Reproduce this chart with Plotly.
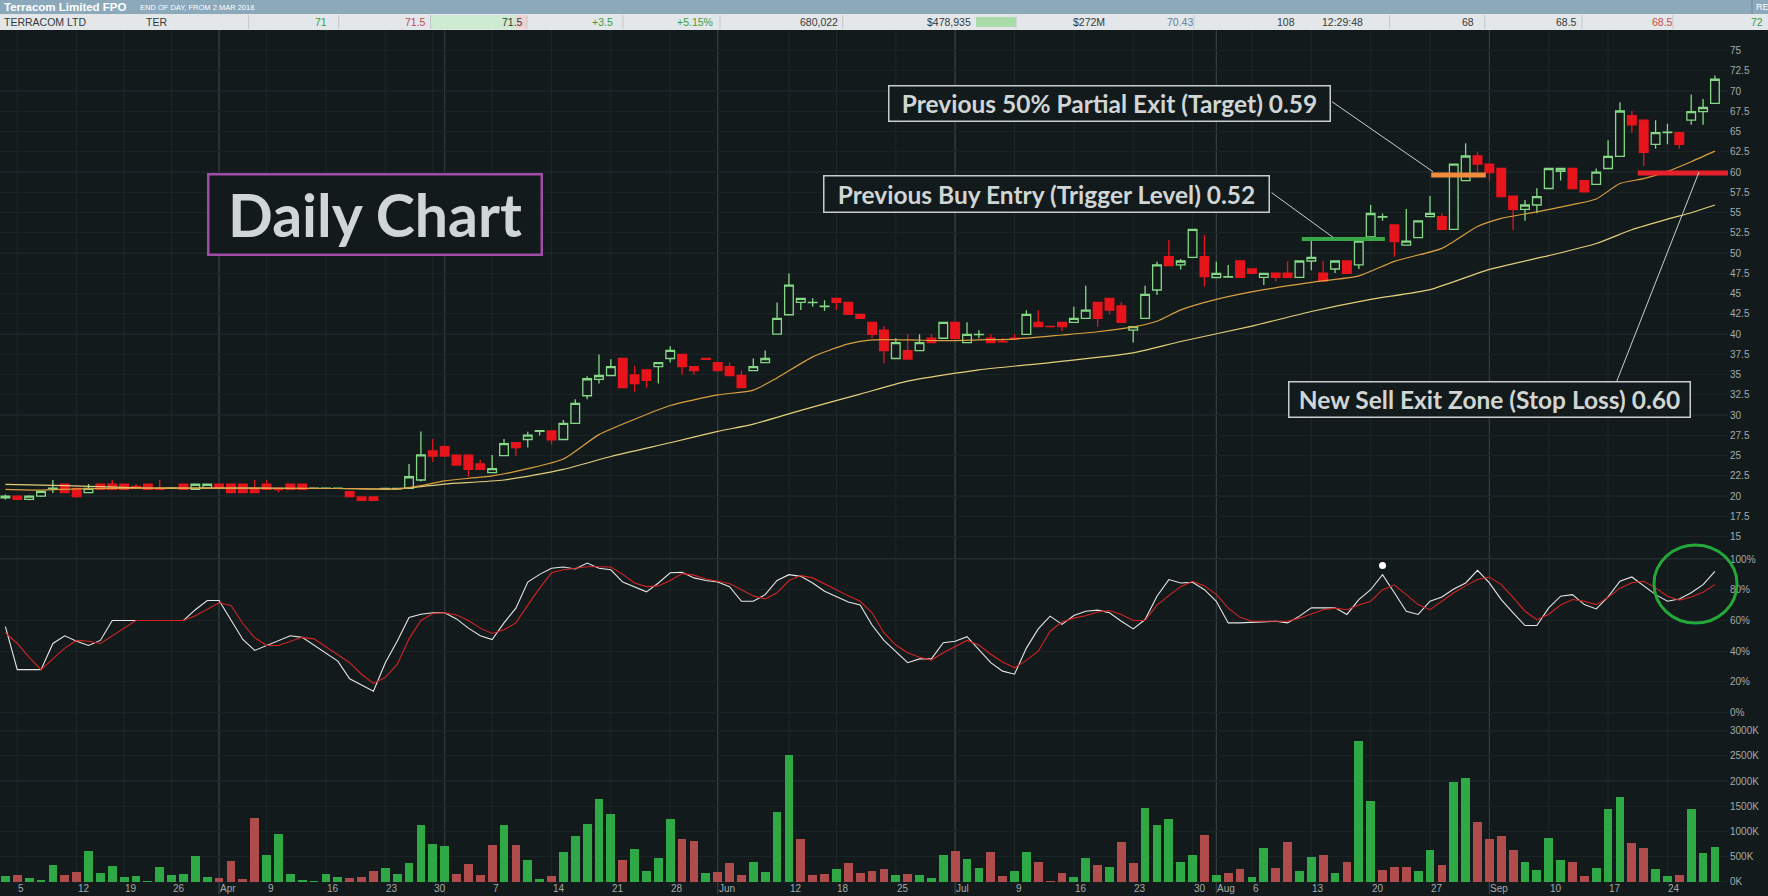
import pandas as pd
import plotly.graph_objects as go
from plotly.subplots import make_subplots

# ---------------- categories (trading days) ----------------
holidays = ["2018-03-30", "2018-04-02", "2018-04-25", "2018-06-11"]
no_trade_days = ["2018-03-14", "2018-03-21"]
dates = [d.strftime("%Y-%m-%d") for d in pd.bdate_range("2018-03-02", "2018-09-28")
         if d.strftime("%Y-%m-%d") not in holidays + no_trade_days]

# ---------------- price (cents) ----------------
opens = [19.8, 20.0, 19.6, 20.0, 20.95, 21.47, 20.97, 20.44, 21.47, 21.47,
         21.47, 21.2, 21.47, 20.95, 20.96, 21.47, 20.85, 21.0, 21.47, 21.47,
         21.47, 20.97, 21.47, 20.97, 21.47, 21.47, 20.96, 20.96, 20.96, 20.56,
         19.9, 19.9, 20.9, 20.9, 20.97, 22.0, 25.58, 26.1, 25.08, 25.08,
         23.97, 22.9, 25.0, 26.6, 27.0, 28.0, 28.05, 27.0, 29.0, 32.4,
         34.43, 34.9, 37.0, 34.96, 35.6, 36.0, 37.0, 37.5, 36.0, 37.0,
         36.5, 36.0, 34.9, 35.5, 36.5, 40.0, 42.4, 43.94, 43.9, 43.4,
         44.43, 43.94, 42.45, 41.47, 40.5, 37.0, 37.97, 37.97, 39.5, 39.5,
         41.47, 38.96, 39.95, 39.5, 39.1, 39.5, 39.98, 41.47, 40.95, 41.47,
         41.47, 41.96, 43.94, 44.43, 43.5, 40.5, 41.96, 45.46, 49.57, 48.55,
         49.49, 49.57, 47.0, 47.05, 49.04, 48.05, 47.02, 47.55, 47.55, 47.02,
         49.04, 47.55, 48.05, 49.04, 48.55, 52.0, 54.45, 53.48, 51.01, 51.92,
         54.51, 54.51, 52.95, 58.96, 62.0, 61.01, 60.48, 57.06, 55.42, 55.95,
         57.99, 60.12, 60.46, 58.97, 58.5, 60.46, 61.95, 67.0, 66.42, 63.44,
         64.9, 64.88, 66.42, 67.48, 68.5]
highs = [20.2, 20.0, 20.1, 20.7, 22.0, 21.5, 21.0, 21.5, 21.5, 22.0,
         21.5, 21.5, 21.5, 22.0, 21.0, 21.5, 21.5, 21.5, 21.5, 21.5,
         21.5, 22.0, 22.0, 21.0, 21.5, 21.5, 21.0, 21.0, 21.0, 20.6,
         19.9, 20.0, 21.0, 21.0, 23.98, 28.0, 27.06, 26.3, 25.1, 25.1,
         24.5, 25.08, 27.06, 26.6, 27.97, 28.1, 28.05, 29.4, 31.96, 34.8,
         37.5, 36.9, 37.0, 36.1, 35.6, 36.5, 38.5, 37.5, 36.0, 37.0,
         36.5, 36.5, 35.5, 37.0, 38.0, 43.9, 47.5, 44.43, 44.43, 44.2,
         44.43, 43.94, 42.45, 41.47, 41.0, 39.5, 40.0, 40.0, 40.0, 41.47,
         41.47, 41.47, 40.5, 40.0, 39.5, 40.0, 42.97, 42.97, 40.95, 41.47,
         43.4, 45.99, 43.94, 44.43, 43.94, 40.93, 45.99, 48.96, 51.63, 49.3,
         52.95, 52.25, 48.96, 48.55, 49.04, 48.05, 47.52, 47.55, 49.0, 49.04,
         51.5, 49.04, 49.04, 49.04, 51.5, 55.95, 54.9, 53.48, 55.46, 53.98,
         57.06, 54.92, 61.01, 63.57, 62.54, 61.01, 60.48, 57.06, 56.57, 58.01,
         60.46, 60.46, 60.46, 58.97, 60.46, 63.95, 68.63, 67.56, 66.42, 66.42,
         65.99, 64.88, 69.6, 69.05, 71.95]
lows = [19.6, 19.5, 19.5, 19.9, 20.4, 20.4, 19.85, 20.4, 20.85, 20.85,
        20.85, 21.0, 20.85, 20.8, 20.95, 20.85, 20.85, 21.0, 21.0, 20.44,
        20.44, 20.44, 20.85, 20.44, 20.85, 20.85, 20.95, 20.95, 20.95, 19.94,
        19.4, 19.4, 20.9, 20.9, 20.9, 21.8, 24.26, 24.96, 23.85, 22.4,
        23.3, 22.9, 25.0, 24.96, 26.0, 27.5, 26.4, 27.0, 29.0, 31.96,
        33.9, 34.9, 33.4, 32.9, 33.4, 33.9, 36.5, 35.0, 35.0, 36.9,
        35.5, 34.9, 33.4, 35.5, 36.5, 40.0, 42.4, 43.0, 43.4, 42.9,
        43.0, 42.45, 41.96, 39.5, 36.4, 37.0, 36.94, 37.97, 38.96, 39.5,
        39.5, 38.96, 39.5, 38.96, 39.0, 39.4, 39.98, 40.93, 40.9, 40.4,
        41.47, 41.96, 40.93, 42.45, 41.47, 38.96, 41.96, 44.84, 48.46, 48.0,
        49.49, 45.9, 47.0, 47.05, 47.02, 47.52, 46.08, 46.5, 47.02, 47.02,
        47.9, 46.57, 47.55, 47.5, 48.05, 52.0, 54.0, 49.57, 51.01, 51.92,
        54.51, 52.95, 52.95, 58.96, 59.99, 58.96, 56.98, 52.87, 54.0, 54.92,
        57.99, 58.97, 57.99, 57.57, 58.5, 60.46, 61.95, 64.88, 60.76, 62.9,
        63.44, 62.9, 65.86, 65.86, 68.5]
closes = [20.0, 19.6, 20.0, 20.6, 21.0, 20.44, 19.94, 20.97, 20.85, 20.85,
          20.85, 21.0, 20.85, 20.85, 20.98, 20.85, 21.47, 21.47, 21.0, 20.44,
          20.44, 20.44, 20.85, 20.8, 20.85, 20.85, 20.98, 20.98, 20.98, 19.94,
          19.5, 19.5, 20.95, 20.95, 22.4, 25.1, 24.96, 24.96, 23.85, 23.3,
          23.3, 23.4, 26.5, 26.0, 27.55, 28.1, 26.94, 29.0, 31.46, 34.5,
          34.9, 36.0, 33.4, 33.9, 34.3, 36.5, 38.0, 36.0, 35.5, 36.9,
          35.5, 34.9, 33.4, 36.0, 37.0, 41.96, 46.07, 44.43, 43.94, 43.45,
          43.94, 42.45, 41.96, 39.98, 37.97, 38.96, 36.94, 38.96, 38.96, 41.47,
          39.5, 39.98, 39.98, 38.96, 39.05, 39.4, 42.45, 40.93, 40.93, 40.93,
          41.96, 42.97, 41.96, 42.97, 41.47, 40.93, 44.92, 48.55, 48.46, 49.04,
          52.95, 47.1, 47.5, 47.1, 47.02, 47.52, 47.52, 47.02, 47.02, 49.04,
          49.49, 46.57, 49.04, 47.5, 51.5, 54.9, 54.5, 51.42, 51.5, 53.98,
          54.92, 52.95, 61.01, 62.0, 61.01, 59.94, 56.98, 55.42, 55.95, 56.98,
          60.46, 60.46, 57.99, 57.57, 60.0, 61.95, 67.56, 65.86, 62.46, 64.88,
          64.95, 63.44, 67.48, 67.99, 71.48]

# moving averages read at selected trading-day indices
ma_short_idx = [0, 3, 6, 12, 20, 28, 33, 35, 37, 41, 44, 47, 50, 53, 56, 60, 63, 65, 68, 71, 73,
                76, 79, 82, 85, 89, 92, 95, 97, 99, 102, 106, 110, 114, 117, 121, 124, 126, 129,
                132, 134, 136, 138, 140, 142, 144]
ma_short = [20.85, 20.75, 20.9, 21.0, 21.0, 20.95, 20.9, 21.3, 21.9, 22.5, 23.4, 24.6, 27.6, 29.5,
            31.2, 32.5, 33.1, 34.6, 37.2, 38.8, 39.3, 39.3, 39.2, 39.3, 39.4, 39.9, 40.3, 40.9,
            41.6, 43.0, 44.3, 45.5, 46.4, 47.2, 49.0, 50.6, 53.3, 54.3, 55.1, 56.0, 56.7, 58.6,
            59.2, 60.1, 61.3, 62.6]
ma_long_idx = [0, 5, 12, 20, 28, 33, 37, 42, 47, 51, 56, 60, 63, 67, 72, 76, 82, 88, 95, 99, 105,
               110, 115, 120, 125, 130, 134, 137, 140, 142, 144]
ma_long = [21.45, 21.3, 21.0, 21.0, 20.95, 20.9, 21.5, 22.0, 23.3, 24.9, 26.6, 28.0, 28.9, 30.6,
           32.6, 34.2, 35.6, 36.5, 37.7, 39.1, 41.0, 42.8, 44.3, 45.5, 48.0, 49.7, 51.2, 52.9,
           54.2, 55.0, 55.95]

# ---------------- stochastic (%) ----------------
stoch_k = [56, 28, 28, 28, 45, 50, 46.5, 43.7, 47, 60,
           60, 60, 60, 60, 60, 60, 67, 73, 73, 60,
           47.6, 40.5, 43.7, 47, 50, 49, 44, 38.5, 33.5, 22,
           18, 14, 32.5, 46.5, 62, 64, 65, 65, 61, 55,
           50, 47.6, 58.4, 68, 85, 90, 94, 94.8, 93.5, 97.4,
           94, 93, 85, 82, 78.6, 84.4, 91, 91.3, 87.7, 86,
           85, 82, 72.5, 72.5, 76.8, 86, 89.8, 88.7, 84.4, 79,
           75.5, 72, 70, 57, 47, 40, 32.5, 35, 35, 45.5,
           46.5, 49.4, 41, 32.5, 27, 25, 42, 54.5, 62.8, 57.4,
           63.2, 66, 66.7, 65, 59.5, 54.5, 60.6, 75.8, 86.6, 84.4,
           84.8, 80, 72.5, 58.4, 58.4, 58.9, 59.2, 59.5, 58.4, 62.8,
           68.2, 68.2, 68.2, 63.9, 73.6, 80, 89.8, 78, 66, 63.9,
           72.5, 75.3, 80.5, 84.4, 92.6, 84.4, 73.6, 65, 56.7, 56.7,
           68.2, 75.8, 76.8, 70.3, 67.5, 75.3, 85.5, 88.3, 82.3, 76.8,
           72.5, 74, 78, 83.3, 92]
stoch_d = [52, 45, 36, 28, 35, 42, 47, 46.5, 45, 50,
           55, 60, 60, 60, 60, 60, 63, 67, 71.5, 69.7,
           58, 48.7, 43.7, 43.7, 46.5, 49, 48, 43, 38, 32.5,
           25, 19, 23, 31.4, 48, 60, 64.5, 65, 63.5, 60,
           55, 51.5, 54, 58.4, 70, 81, 91, 93, 94, 95,
           95, 94.8, 90, 84.4, 82, 82.5, 86, 90.5, 89.5, 87,
           85.5, 84, 80, 76, 74, 78, 86, 89.2, 87.7, 84,
           80, 76, 72.5, 65, 52, 44, 39, 36, 34.2, 39,
           43, 47, 44, 38, 33, 29.2, 34, 40, 53, 59,
           61.5, 63, 65.5, 66.5, 63.9, 60, 60, 70, 76.2, 82,
           85.5, 82.5, 77, 68, 62, 59.5, 59.5, 59.5, 59.5, 61.5,
           64.5, 67, 68, 67, 70, 72.5, 80, 83, 76.8, 70.3,
           67, 72.5, 78, 82.5, 86.6, 88.3, 83.3, 75, 66, 60.5,
           64, 70, 73.6, 72.5, 70.3, 75, 81, 84.5, 85.5, 81.2,
           75.8, 73.2, 75.3, 78.4, 83.3]
stoch_marker_idx = [116]
stoch_marker_val = [95.7]

# ---------------- volume (thousands of shares) ----------------
volume_k = [113, 133, 80, 33, 332, 133, 200, 610, 173, 312,
            93, 113, 13, 292, 133, 153, 511, 93, 80, 418,
            53, 1261, 531, 949, 153, 33, 13, 153, 93, 80,
            93, 212, 265, 153, 372, 1128, 750, 710, 153, 352,
            133, 730, 1128, 730, 431, 53, 113, 591, 909, 1148,
            1646, 1347, 431, 650, 212, 471, 1248, 850, 810, 173,
            192, 372, 133, 392, 192, 1387, 2522, 850, 133, 153,
            252, 372, 176, 216, 252, 133, 153, 133, 73, 531,
            610, 451, 272, 591, 113, 212, 591, 392, 13, 173,
            93, 471, 332, 292, 790, 372, 1460, 1128, 1248, 392,
            531, 929, 133, 173, 252, 93, 670, 272, 790, 212,
            491, 531, 173, 392, 2788, 1606, 232, 292, 292, 212,
            630, 332, 1985, 2064, 1188, 850, 909, 630, 392, 232,
            869, 431, 392, 113, 272, 1447, 1686, 770, 670, 252,
            113, 133, 1447, 571, 690]
volume_dir = list("grgggrrggg" "ggggggggrr" "rrgggggggr" "rrggggggrr"
                  "rrgrggrggg" "ggrggggrrg" "rrrggggrrr" "grrrrgrggg"
                  "rggrrggrrr" "ggrgrrgggg" "grgrrggrrg" "grgrggrrrg"
                  "grggrrrrgg" "ggrrgggrrg" "grggg")

# ---------------- ticks / levels / text ----------------
tick_dates = ["2018-03-05", "2018-03-12", "2018-03-19", "2018-03-26", "2018-04-03", "2018-04-09",
              "2018-04-16", "2018-04-23", "2018-04-30", "2018-05-07", "2018-05-14", "2018-05-21",
              "2018-05-28", "2018-06-01", "2018-06-12", "2018-06-18", "2018-06-25", "2018-07-02",
              "2018-07-09", "2018-07-16", "2018-07-23", "2018-07-30", "2018-08-01", "2018-08-06",
              "2018-08-13", "2018-08-20", "2018-08-27", "2018-09-03", "2018-09-10", "2018-09-17",
              "2018-09-24"]
tick_text = ["5", "12", "19", "26", "Apr", "9", "16", "23", "30", "7", "14", "21", "28", "Jun",
             "12", "18", "25", "Jul", "9", "16", "23", "30", "Aug", "6", "13", "20", "27", "Sep",
             "10", "17", "24"]
month_dates = ["2018-04-03", "2018-05-01", "2018-06-01", "2018-07-02", "2018-08-01", "2018-09-03"]
price_ticks = [15 + 2.5 * k for k in range(25)]
stoch_ticks = [0, 20, 40, 60, 80, 100]
volume_ticks = [0, 500, 1000, 1500, 2000, 2500, 3000]

level_names = ["trigger", "target", "stop"]
level_values = [51.76, 59.66, 59.9]
level_start = [109.2, 120.1, 137.5]
level_end = [116.2, 124.7, 145.3]
level_colors = ["#36a845", "#f08c3c", "#e8202a"]
level_widths = [4, 5, 5]

# ---------------- style ----------------
BG = "#121a1c"
GRID_FAINT = "#1a2426"
GRID_MAJOR = "#2a3638"
VL_WEEK = "#1d282b"
VL_MONTH = "#333f41"
AXIS_FONT = dict(family="Liberation Sans Narrow, Arial Narrow, Liberation Sans, sans-serif",
                 size=10, color="#a3abab")
W, H = 1768, 896
ML, MR, MT, MB = 0, 40, 30, 12
PW, PH = W - ML - MR, H - MT - MB


def px(xp):
    return (xp - ML) / PW


def py(yp):
    return (H - MB - yp) / PH


fig = make_subplots(rows=3, cols=1, shared_xaxes=True, vertical_spacing=0)

fig.add_trace(go.Candlestick(
    x=dates, open=opens, high=highs, low=lows, close=closes, whiskerwidth=0,
    increasing=dict(line=dict(color="#86d886", width=1.3), fillcolor=BG),
    decreasing=dict(line=dict(color="#e8141c", width=1.3), fillcolor="#e8141c"),
    hoverinfo="skip"), row=1, col=1)
fig.add_trace(go.Scatter(x=[dates[i] for i in ma_long_idx], y=ma_long, mode="lines",
                         line=dict(color="#e2cf7c", width=1.2, shape="spline", smoothing=0.6)),
              row=1, col=1)
fig.add_trace(go.Scatter(x=[dates[i] for i in ma_short_idx], y=ma_short, mode="lines",
                         line=dict(color="#d9a040", width=1.2, shape="spline", smoothing=0.6)),
              row=1, col=1)

fig.add_trace(go.Scatter(x=dates, y=stoch_k, mode="lines", line=dict(color="#e6e6e6", width=1.1)),
              row=2, col=1)
fig.add_trace(go.Scatter(x=dates, y=stoch_d, mode="lines", line=dict(color="#d42424", width=1.1)),
              row=2, col=1)
fig.add_trace(go.Scatter(x=[dates[i] for i in stoch_marker_idx], y=stoch_marker_val, mode="markers",
                         marker=dict(color="white", size=7, symbol="circle")), row=2, col=1)

vol_colors = ["#2fa846" if d == "g" else "#b04c4c" for d in volume_dir]
fig.add_trace(go.Bar(x=dates, y=volume_k, marker=dict(color=vol_colors, line=dict(width=0)),
                     width=0.74), row=3, col=1)

xr = [-0.455, 145.1]
for ax in ["xaxis", "xaxis2", "xaxis3"]:
    fig.layout[ax].update(type="category", categoryorder="array", categoryarray=dates,
                          range=xr, showgrid=False, showticklabels=False, zeroline=False,
                          showline=False, rangeslider=dict(visible=False), fixedrange=True)

fig.update_layout(
    yaxis=dict(domain=[py(557), 1], range=[12.49, 77.56], side="right", tickvals=price_ticks,
               ticktext=[f"{v:g}" for v in price_ticks], gridcolor=GRID_FAINT, gridwidth=1,
               zeroline=False, showline=False, ticks="", tickfont=AXIS_FONT, ticklabelstandoff=1),
    yaxis2=dict(domain=[py(722), py(557)], range=[-6.1, 101.3], side="right", tickvals=stoch_ticks,
                ticktext=[f"{v}%" for v in stoch_ticks], gridcolor=GRID_FAINT, zeroline=False,
                showline=False, ticks="", tickfont=AXIS_FONT, ticklabelstandoff=1),
    yaxis3=dict(domain=[0, py(722)], range=[-43.7, 3172.7], side="right", tickvals=volume_ticks,
                ticktext=[f"{v}K" for v in volume_ticks], gridcolor=GRID_FAINT, zeroline=False,
                showline=False, ticks="", tickfont=AXIS_FONT, ticklabelstandoff=1),
)

shapes = []
# vertical grid lines
for d in tick_dates + month_dates:
    i = dates.index(d)
    is_month = d in month_dates
    shapes.append(dict(type="line", xref="x", yref="paper", x0=i, x1=i,
                       y0=(-0.012 if is_month else 0), y1=1,
                       line=dict(color=VL_MONTH if is_month else VL_WEEK, width=1), layer="below"))
# stronger horizontal grid lines
for v in range(20, 80, 10):
    shapes.append(dict(type="line", xref="paper", yref="y", x0=0, x1=1, y0=v, y1=v,
                       line=dict(color=GRID_MAJOR, width=1), layer="below"))
for v in [0, 100]:
    shapes.append(dict(type="line", xref="paper", yref="y2", x0=0, x1=1, y0=v, y1=v,
                       line=dict(color="#34403f" if v == 100 else GRID_MAJOR, width=1),
                       layer="below"))
for v in [1000, 2000, 3000]:
    shapes.append(dict(type="line", xref="paper", yref="y3", x0=0, x1=1, y0=v, y1=v,
                       line=dict(color="#34403f" if v == 3000 else GRID_MAJOR, width=1),
                       layer="below"))
# level lines
for v, a, b, c, w in zip(level_values, level_start, level_end, level_colors, level_widths):
    shapes.append(dict(type="line", xref="x", yref="y", x0=a, x1=b, y0=v, y1=v,
                       line=dict(color=c, width=w)))
# leader lines (pixel positions)
for (x0, y0, x1, y1) in [(1332, 101.7, 1433, 171.7), (1271.7, 192.7, 1333, 237.3),
                         (1616.7, 381.4, 1699, 172)]:
    shapes.append(dict(type="line", xref="paper", yref="paper", x0=px(x0), y0=py(y0),
                       x1=px(x1), y1=py(y1), line=dict(color="#c9cdcd", width=1)))
# green circle on stochastic
shapes.append(dict(type="circle", xref="paper", yref="paper", x0=px(1654), x1=px(1737),
                   y0=py(623), y1=py(545), line=dict(color="#25a83a", width=3)))

# header bars
shapes.append(dict(type="rect", xref="paper", yref="paper", x0=px(0), x1=px(W), y0=py(14),
                   y1=py(0), fillcolor="#8ca8bb", line=dict(width=0)))
shapes.append(dict(type="rect", xref="paper", yref="paper", x0=px(0), x1=px(W), y0=py(30),
                   y1=py(14), fillcolor="#e3e7e9", line=dict(width=0)))
shapes.append(dict(type="rect", xref="paper", yref="paper", x0=px(430.5), x1=px(515), y0=py(29),
                   y1=py(15), fillcolor="#cdebd0", line=dict(width=0)))
shapes.append(dict(type="rect", xref="paper", yref="paper", x0=px(515), x1=px(527), y0=py(29),
                   y1=py(15), fillcolor="#f1d3d3", line=dict(width=0)))
shapes.append(dict(type="rect", xref="paper", yref="paper", x0=px(976), x1=px(1016), y0=py(27),
                   y1=py(17), fillcolor="#a9dca9", line=dict(width=0)))
for sx in [248.6, 338.7, 430.5, 527, 623, 720, 842.7, 1016, 1194, 1389.6, 1484.7, 1582, 1672.8]:
    shapes.append(dict(type="line", xref="paper", yref="paper", x0=px(sx), x1=px(sx), y0=py(29),
                       y1=py(15), line=dict(color="#c3c9cb", width=1)))
shapes.append(dict(type="line", xref="paper", yref="paper", x0=px(1752), x1=px(1752), y0=py(14),
                   y1=py(0), line=dict(color="#6f8899", width=1)))

annotations = []
# date labels (left aligned at the bar)
for d, t in zip(tick_dates, tick_text):
    annotations.append(dict(x=dates.index(d), y=py(889), xref="x3", yref="paper", text=t,
                            showarrow=False, xanchor="left", yanchor="middle", xshift=-1,
                            font=AXIS_FONT))

HDR = "Liberation Sans Narrow, Arial Narrow, Liberation Sans, sans-serif"
annotations.append(dict(x=px(2), y=py(7), xref="paper", yref="paper",
                        text="<b>Terracom Limited FPO</b>", showarrow=False, xanchor="left",
                        yanchor="middle", font=dict(family=HDR, size=11.5, color="white")))
annotations.append(dict(x=px(138), y=py(7.5), xref="paper", yref="paper",
                        text="END OF DAY, FROM 2 MAR 2018", showarrow=False, xanchor="left",
                        yanchor="middle", font=dict(family=HDR, size=7.5, color="white")))
annotations.append(dict(x=px(1754), y=py(7), xref="paper", yref="paper", text="RE",
                        showarrow=False, xanchor="left", yanchor="middle",
                        font=dict(family=HDR, size=9, color="white")))
GREEN_T, RED_T, DARK_T = "#3d9e3d", "#c44a4a", "#333a3c"
row_left = [(2, "TERRACOM LTD", DARK_T), (143.5, "TER", DARK_T)]
row_right = [(329, "71", GREEN_T), (427.7, "71.5", RED_T), (525, "71.5", DARK_T),
             (615, "+3.5", GREEN_T), (714.7, "+5.15%", GREEN_T), (840, "680,022", DARK_T),
             (973.4, "$478,935", DARK_T), (1106.5, "$272M", DARK_T), (1195.4, "70.43", "#5f80a2"),
             (1297, "108", DARK_T), (1365, "12:29:48", DARK_T), (1475.7, "68", DARK_T),
             (1579, "68.5", DARK_T), (1674.5, "68.5", RED_T), (1764.5, "72", GREEN_T)]
for xx, t, c in row_left:
    annotations.append(dict(x=px(xx), y=py(22), xref="paper", yref="paper", text=t,
                            showarrow=False, xanchor="left", yanchor="middle",
                            font=dict(family=HDR, size=10.5, color=c)))
for xx, t, c in row_right:
    annotations.append(dict(x=px(xx), y=py(22), xref="paper", yref="paper", text=t,
                            showarrow=False, xanchor="right", yanchor="middle",
                            font=dict(family=HDR, size=10.5, color=c)))

BOX_FONT = "Lato, Open Sans, sans-serif"
boxes = [
    ("<b>Previous 50% Partial Exit (Target) 0.59</b>", 1109.5, 104, 440, 34, 24.5, "#c9cdcd", 1.5),
    ("<b>Previous Buy Entry (Trigger Level) 0.52</b>", 1046.5, 193.5, 444, 35, 24.5, "#c9cdcd", 1.5),
    ("<b>New Sell Exit Zone (Stop Loss) 0.60</b>", 1489.5, 399, 400, 34, 24.5, "#c9cdcd", 1.5),
    ("<b>Daily Chart</b>", 374.5, 214.5, 331, 78, 59, "#a24ca8", 2.5),
]
for t, cx, cy, bw, bh, fs, bc, bwid in boxes:
    annotations.append(dict(x=px(cx), y=py(cy), xref="paper", yref="paper", text=t,
                            showarrow=False, xanchor="center", yanchor="middle", width=bw,
                            height=bh, bgcolor=BG, bordercolor=bc, borderwidth=bwid, borderpad=0,
                            font=dict(family=BOX_FONT, size=fs, color="#d0d5d5")))

fig.update_layout(width=W, height=H, margin=dict(l=ML, r=MR, t=MT, b=MB), paper_bgcolor=BG,
                  plot_bgcolor=BG, showlegend=False, shapes=shapes, annotations=annotations,
                  bargap=0, boxgap=0.27, boxgroupgap=0, hovermode=False)

fig.write_html("out.html", config={"displayModeBar": False, "staticPlot": True},
               post_script="document.body.style.margin='0px';"
                           "document.body.style.background='#121a1c';"
                           "document.body.style.overflow='hidden';")
